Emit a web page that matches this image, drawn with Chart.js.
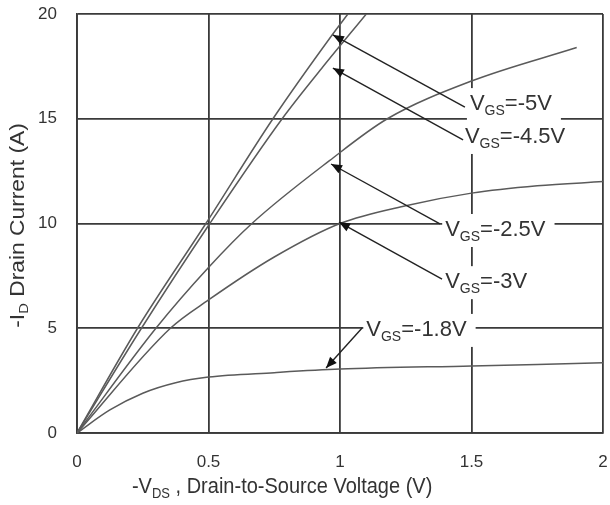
<!DOCTYPE html>
<html>
<head>
<meta charset="utf-8">
<script src="https://cdn.jsdelivr.net/npm/chart.js@4/dist/chart.umd.min.js"></script>
<style>
  html, body { margin: 0; padding: 0; background: #fff; }
  #wrap { width: 610px; height: 505px; }
</style>
</head>
<body>
<div id="wrap"><canvas id="myChart" width="610" height="505"></canvas></div>
<script>
// curves: -VDS (V) vs -ID (A)
var vds_5 = [0, 0.23, 0.49, 0.745, 0.97, 1.03];
var id_5 = [0, 5, 10, 15, 19, 20];

var vds_45 = [0, 0.245, 0.505, 0.78, 0.93, 1.10];
var id_45 = [0, 5, 10, 15, 17.4, 20];

var vds_25 = [0, 0.30, 0.5, 0.665, 0.96, 1.18, 1.5, 1.9];
var id_25 = [0, 5, 7.9, 10, 13, 15, 16.8, 18.4];

var vds_3 = [0, 0.355, 0.5, 0.75, 1.0, 1.25, 1.5, 1.75, 2.0];
var id_3 = [0, 5, 6.35, 8.4, 10, 10.85, 11.45, 11.8, 12.0];

var vds_18 = [0, 0.125, 0.25, 0.375, 0.5, 0.75, 1.0, 1.5, 2.0];
var id_18 = [0, 1.1, 1.9, 2.4, 2.67, 2.88, 3.05, 3.2, 3.35];

// callouts (data units)
var labelVgs = ['-5V', '-4.5V', '-2.5V', '-3V', '-1.8V'];
var labelAt = [[1.494, 15.7], [1.475, 14.13], [1.40, 9.69], [1.40, 7.2], [1.10, 4.92]];
var arrowTip = [[0.973, 19.0], [0.973, 17.42], [0.966, 12.84], [0.996, 10.07], [0.947, 3.10]];
var arrowTail = [[1.475, 15.56], [1.468, 13.99], [1.380, 9.98], [1.388, 7.35], [1.084, 5.01]];

var FONT = '"Liberation Sans", Arial, sans-serif';

function pts(xs, ys) {
  return xs.map(function (x, i) { return { x: x, y: ys[i] }; });
}

function curve(xs, ys) {
  return {
    data: pts(xs, ys),
    showLine: true,
    borderColor: '#5a5a5a',
    borderWidth: 1.5,
    pointRadius: 0,
    cubicInterpolationMode: 'monotone',
    fill: false
  };
}

// text with subscripts, parts = [[text, isSub], ...]
function drawParts(ctx, parts, x, y, size, align) {
  var subSize = Math.round(size * 0.65);
  var w = 0;
  parts.forEach(function (p) {
    ctx.font = (p[1] ? subSize : size) + 'px ' + FONT;
    w += ctx.measureText(p[0]).width;
  });
  var cx = align === 'center' ? x - w / 2 : x;
  ctx.textBaseline = 'middle';
  ctx.textAlign = 'left';
  parts.forEach(function (p) {
    ctx.font = (p[1] ? subSize : size) + 'px ' + FONT;
    ctx.fillText(p[0], cx, p[1] ? y + size * 0.32 : y);
    cx += ctx.measureText(p[0]).width;
  });
  return w;
}

var callouts = {
  id: 'callouts',
  afterDraw: function (chart) {
    var ctx = chart.ctx;
    var xs = chart.scales.x, ys = chart.scales.y;
    var area = chart.chartArea;
    ctx.save();

    for (var i = 0; i < labelVgs.length; i++) {
      var parts = [['V', false], ['GS', true], ['=' + labelVgs[i], false]];
      var lx = xs.getPixelForValue(labelAt[i][0]);
      var ly = ys.getPixelForValue(labelAt[i][1]);
      // measure
      var w = 0;
      parts.forEach(function (p) {
        ctx.font = (p[1] ? 14 : 22) + 'px ' + FONT;
        w += ctx.measureText(p[0]).width;
      });
      ctx.fillStyle = '#fff';
      ctx.fillRect(lx - 3, ly - 16, w + 12, 33);

      // leader line
      var tx = xs.getPixelForValue(arrowTip[i][0]);
      var ty = ys.getPixelForValue(arrowTip[i][1]);
      var sx = xs.getPixelForValue(arrowTail[i][0]);
      var sy = ys.getPixelForValue(arrowTail[i][1]);
      ctx.strokeStyle = '#222';
      ctx.lineWidth = 1.4;
      ctx.beginPath();
      ctx.moveTo(sx, sy);
      ctx.lineTo(tx, ty);
      ctx.stroke();
      // arrow head
      var ang = Math.atan2(ty - sy, tx - sx);
      var len = 11, hw = 4.5;
      ctx.fillStyle = '#111';
      ctx.beginPath();
      ctx.moveTo(tx, ty);
      ctx.lineTo(tx - len * Math.cos(ang) + hw * Math.sin(ang), ty - len * Math.sin(ang) - hw * Math.cos(ang));
      ctx.lineTo(tx - len * Math.cos(ang) - hw * Math.sin(ang), ty - len * Math.sin(ang) + hw * Math.cos(ang));
      ctx.closePath();
      ctx.fill();

      ctx.fillStyle = '#333';
      var cx = lx;
      parts.forEach(function (p) {
        ctx.font = (p[1] ? 14 : 22) + 'px ' + FONT;
        ctx.textBaseline = 'middle';
        ctx.textAlign = 'left';
        ctx.fillText(p[0], cx, p[1] ? ly + 7 : ly);
        cx += ctx.measureText(p[0]).width;
      });
    }

    // axis titles
    ctx.fillStyle = '#333';
    ctx.save();
    ctx.translate(area.left + (area.right - area.left) * 0.39, area.bottom + 54);
    ctx.scale(1, 1.12);
    drawParts(ctx, [['-V', false], ['DS', true], [' , Drain-to-Source Voltage (V)', false]], 0, 0, 20, 'center');
    ctx.restore();

    ctx.save();
    ctx.translate(18, (area.top + area.bottom) / 2 + 2);
    ctx.rotate(-Math.PI / 2);
    ctx.scale(1.14, 1);
    drawParts(ctx, [['-I', false], ['D', true], [' Drain Current (A)', false]], 0, 0, 20, 'center');
    ctx.restore();

    ctx.restore();
  }
};

var ctx = document.getElementById('myChart');
var myChart = new Chart(ctx, {
  type: 'scatter',
  data: {
    datasets: [
      curve(vds_5, id_5),
      curve(vds_45, id_45),
      curve(vds_25, id_25),
      curve(vds_3, id_3),
      curve(vds_18, id_18)
    ]
  },
  options: {
    responsive: false,
    animation: false,
    layout: { padding: { top: 14, right: 7, left: 0, bottom: 0 } },
    plugins: {
      legend: { display: false },
      tooltip: { enabled: false }
    },
    scales: {
      x: {
        type: 'linear',
        min: 0,
        max: 2,
        afterFit: function (s) { s.height = 72; s.paddingLeft = 0; s.paddingRight = 0; },
        ticks: {
          stepSize: 0.5, padding: 19, color: '#333', font: { size: 17, family: FONT },
          callback: function (v) { return String(v); }
        },
        grid: { color: '#3a3a3a', lineWidth: 1.8, drawTicks: false },
        border: { color: '#3a3a3a', width: 1.8 }
      },
      y: {
        min: 0,
        max: 20,
        afterFit: function (s) { s.width = 77; s.paddingTop = 0; s.paddingBottom = 0; },
        ticks: { stepSize: 5, padding: 20, color: '#333', font: { size: 17, family: FONT } },
        grid: { color: '#3a3a3a', lineWidth: 1.8, drawTicks: false },
        border: { color: '#3a3a3a', width: 1.8 }
      }
    }
  },
  plugins: [callouts]
});
</script>
</body>
</html>
